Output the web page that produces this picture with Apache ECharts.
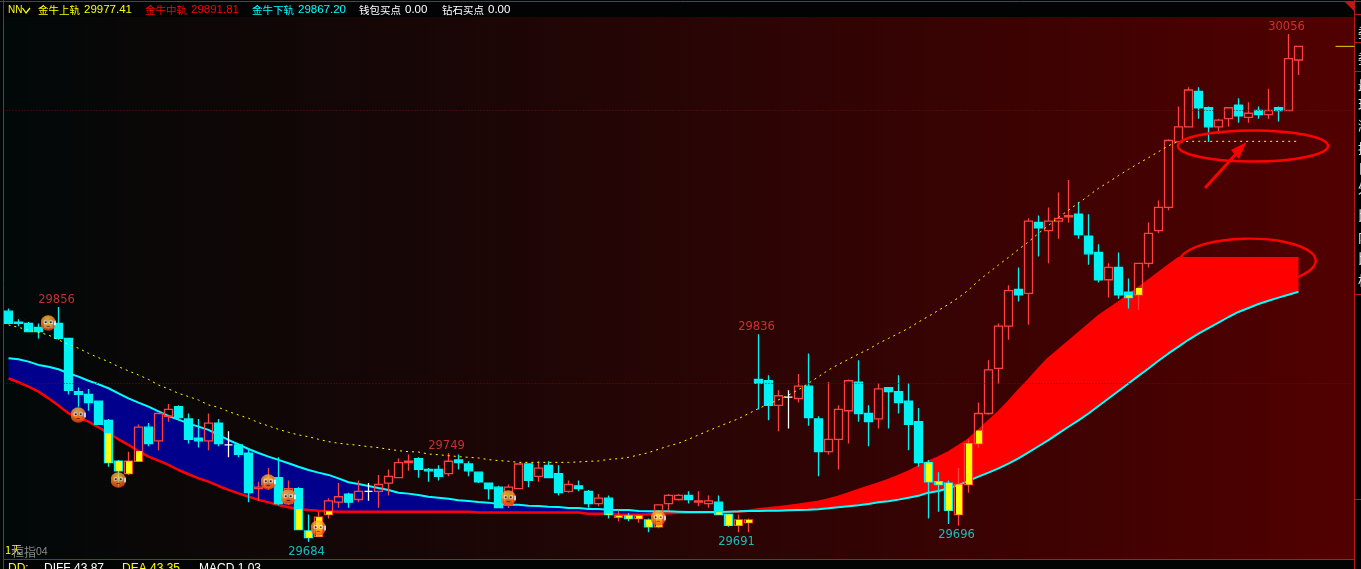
<!DOCTYPE html>
<html>
<head>
<meta charset="utf-8">
<title>金牛轨道</title>
<style>
  html, body { margin: 0; padding: 0; background: #000; overflow: hidden; }
  #chart { width: 1361px; height: 569px; }
</style>
<script src="https://cdn.jsdelivr.net/npm/echarts@6/dist/echarts.min.js"></script>
</head>
<body>
<div id="chart"></div>
<script>
// K线数据
const opens = [
  29853, 29845, 29844, 29841, 29844, 29844, 29833, 29794, 29792, 29787,
  29773, 29743, 29734, 29743, 29768, 29758, 29776, 29783, 29774, 29760,
  29758, 29771, 29755, 29755, 29749, 29723, 29724, 29731, 29712, 29723,
  29692, 29688, 29704, 29713, 29719, 29715, 29721, 29721, 29727, 29731,
  29742, 29745, 29737, 29737, 29734, 29744, 29741, 29735, 29727, 29724,
  29711, 29723, 29741, 29732, 29740, 29734, 29721, 29725, 29721, 29712,
  29716, 29702, 29703, 29701, 29700, 29695, 29712, 29715, 29718, 29713,
  29712, 29713, 29704, 29696, 29698, 29803, 29802, 29784, 29790, 29789,
  29798, 29774, 29750, 29759, 29780, 29801, 29778, 29774, 29797, 29794,
  29787, 29772, 29742, 29728, 29727, 29704, 29726, 29756, 29778, 29811,
  29842, 29869, 29866, 29918, 29912, 29919, 29922, 29924, 29908, 29896,
  29876, 29885, 29867, 29865, 29888, 29912, 29929, 29977, 29988, 30014,
  30002, 29988, 29994, 30004, 29995, 30000, 29997, 30002, 30000, 30037
];
const closes = [
  29844, 29844, 29838, 29838, 29841, 29833, 29795, 29792, 29786, 29770,
  29742, 29736, 29743, 29768, 29756, 29778, 29781, 29775, 29759, 29758,
  29771, 29756, 29755, 29748, 29720, 29724, 29730, 29712, 29723, 29693,
  29687, 29702, 29714, 29717, 29713, 29721, 29721, 29726, 29732, 29742,
  29743, 29737, 29736, 29732, 29743, 29742, 29736, 29728, 29723, 29709,
  29724, 29741, 29729, 29738, 29731, 29720, 29726, 29723, 29712, 29716,
  29704, 29703, 29701, 29703, 29695, 29711, 29718, 29718, 29715, 29714,
  29714, 29704, 29696, 29700, 29700, 29800, 29784, 29791, 29790, 29798,
  29775, 29750, 29759, 29781, 29802, 29778, 29772, 29796, 29794, 29786,
  29770, 29742, 29728, 29726, 29707, 29726, 29756, 29778, 29810, 29842,
  29868, 29865, 29919, 29914, 29919, 29921, 29923, 29909, 29895, 29876,
  29885, 29865, 29863, 29888, 29910, 29929, 29978, 29988, 30015, 30002,
  29988, 29993, 30002, 29996, 29998, 29997, 30000, 30000, 30038, 30047
];
const lows = [
  29844, 29842, 29838, 29833, 29840, 29832, 29792, 29783, 29780, 29770,
  29739, 29724, 29733, 29743, 29754, 29751, 29772, 29773, 29756, 29753,
  29751, 29754, 29746, 29746, 29713, 29714, 29722, 29711, 29711, 29693,
  29684, 29688, 29701, 29709, 29709, 29713, 29714, 29709, 29718, 29731,
  29736, 29731, 29728, 29729, 29732, 29737, 29732, 29727, 29715, 29709,
  29709, 29723, 29724, 29728, 29731, 29718, 29720, 29721, 29709, 29710,
  29701, 29699, 29699, 29698, 29691, 29694, 29707, 29714, 29712, 29710,
  29709, 29704, 29695, 29691, 29691, 29781, 29773, 29765, 29767, 29786,
  29769, 29732, 29748, 29737, 29756, 29772, 29754, 29767, 29767, 29778,
  29751, 29739, 29701, 29706, 29697, 29696, 29720, 29753, 29777, 29800,
  29832, 29860, 29843, 29893, 29888, 29906, 29918, 29906, 29887, 29874,
  29863, 29862, 29855, 29854, 29885, 29910, 29927, 29977, 29988, 29994,
  29977, 29983, 29988, 29991, 29991, 29994, 29994, 29992, 30000, 30026
];
const highs = [
  29855, 29847, 29845, 29844, 29846, 29856, 29833, 29797, 29796, 29787,
  29774, 29744, 29750, 29770, 29771, 29778, 29785, 29784, 29778, 29774,
  29778, 29774, 29765, 29756, 29752, 29728, 29738, 29746, 29729, 29724,
  29704, 29706, 29716, 29727, 29720, 29729, 29727, 29733, 29737, 29745,
  29748, 29746, 29738, 29740, 29749, 29748, 29743, 29735, 29727, 29725,
  29726, 29741, 29741, 29743, 29743, 29740, 29729, 29729, 29722, 29719,
  29718, 29707, 29705, 29704, 29701, 29711, 29719, 29719, 29721, 29721,
  29718, 29718, 29704, 29704, 29701, 29836, 29806, 29795, 29795, 29807,
  29822, 29776, 29801, 29784, 29803, 29817, 29784, 29800, 29797, 29806,
  29800, 29782, 29744, 29735, 29729, 29738, 29759, 29786, 29817, 29844,
  29872, 29885, 29921, 29923, 29929, 29940, 29949, 29933, 29924, 29902,
  29888, 29896, 29877, 29888, 29918, 29934, 29979, 30003, 30017, 30017,
  30003, 29994, 30002, 30009, 30006, 30003, 30016, 30003, 30056, 30047
];

// 金牛下轨
const lowerBand = [
  29818.4, 29817.7, 29816.0, 29813.6, 29812.3, 29810.4, 29807.5, 29805.0, 29802.0, 29799.4,
  29796.5, 29792.8, 29789.1, 29786.0, 29783.0, 29779.6, 29776.2, 29773.5, 29770.8, 29768.4,
  29766.0, 29762.3, 29758.6, 29755.4, 29752.0, 29749.1, 29746.4, 29744.0, 29741.5, 29739.0,
  29736.6, 29734.7, 29733.0, 29730.5, 29727.6, 29726.4, 29724.9, 29723.4, 29722.0, 29720.0,
  29719.3, 29718.3, 29717.0, 29716.3, 29715.6, 29714.4, 29713.9, 29713.2, 29712.7, 29711.7,
  29711.2, 29711.2, 29710.5, 29710.2, 29709.7, 29709.5, 29708.8, 29708.8, 29708.0, 29708.0,
  29707.5, 29707.3, 29707.3, 29706.6, 29706.3, 29706.3, 29706.3, 29706.1, 29705.8, 29705.8,
  29705.8, 29705.8, 29706.1, 29706.3, 29706.6, 29706.6, 29706.8, 29706.8, 29707.1, 29707.3,
  29707.5, 29707.8, 29708.5, 29709.3, 29710.0, 29710.7, 29711.7, 29712.9, 29713.7, 29714.9,
  29716.3, 29717.8, 29720.0, 29721.2, 29723.2, 29725.5, 29728.6, 29731.7, 29734.7, 29737.8,
  29741.3, 29745.2, 29749.5, 29754.0, 29758.5, 29763.4, 29768.3, 29773.0, 29778.0, 29783.5,
  29789.0, 29794.5, 29800.0, 29805.6, 29811.0, 29816.6, 29822.0, 29827.0, 29832.0, 29836.5,
  29840.5, 29844.5, 29848.7, 29852.4, 29855.3, 29858.2, 29860.6, 29862.9, 29865.0, 29867.2
];
// 金牛中轨
const midBand = [
  29803.8, 29800.9, 29797.7, 29794.0, 29789.1, 29783.8, 29778.1, 29775.0, 29772.0, 29767.9,
  29763.5, 29759.1, 29755.0, 29750.5, 29746.4, 29743.5, 29740.3, 29736.6, 29733.5, 29730.5,
  29728.1, 29724.9, 29722.0, 29719.5, 29717.1, 29714.7, 29712.9, 29711.0, 29709.3, 29708.0,
  29707.3, 29706.8, 29706.4, 29706.1, 29706.1, 29706.1, 29706.1, 29706.1, 29706.1, 29706.1,
  29706.1, 29706.1, 29706.1, 29706.1, 29706.1, 29706.1, 29706.1, 29705.4, 29705.4, 29705.4,
  29705.4, 29705.4, 29705.4, 29705.4, 29705.4, 29705.4, 29705.4, 29705.4, 29704.6, 29704.6,
  29704.6, 29703.9, 29703.9, 29703.9, 29704.2, 29704.6, 29705.0, 29705.2, 29705.4, 29705.4,
  29705.6, 29705.6, 29705.8, 29706.1, 29706.8, 29707.8, 29708.5, 29709.3, 29710.2, 29711.2,
  29712.2, 29713.4, 29715.1, 29717.1, 29719.5, 29722.0, 29724.4, 29726.8, 29729.3, 29732.2,
  29735.4, 29739.0, 29742.7, 29745.9, 29749.6, 29754.2, 29759.0, 29765.5, 29772.3, 29779.0,
  29786.6, 29794.7, 29802.5, 29810.6, 29818.4, 29824.4, 29830.6, 29836.8, 29843.0, 29849.2,
  29854.4, 29859.3, 29864.6, 29870.0, 29875.4, 29880.9, 29886.4, 29891.81, 29891.81, 29891.81,
  29891.81, 29891.81, 29891.81, 29891.81, 29891.81, 29891.81, 29891.81, 29891.81, 29891.81, 29891.81
];
// 金牛上轨
const upperBand = [
  29842.9, 29841.1, 29839.2, 29837.5, 29835.5, 29831.9, 29828.7, 29825.8, 29822.1, 29818.9,
  29816.0, 29812.3, 29809.2, 29806.2, 29803.0, 29798.9, 29796.0, 29792.8, 29790.4, 29787.9,
  29784.3, 29782.5, 29779.4, 29776.9, 29774.5, 29771.3, 29768.9, 29766.4, 29764.2, 29762.3,
  29761.0, 29759.1, 29757.4, 29756.2, 29755.4, 29754.7, 29753.7, 29753.0, 29751.8, 29750.8,
  29750.0, 29749.8, 29748.3, 29747.8, 29747.1, 29746.4, 29745.9, 29745.4, 29744.2, 29743.5,
  29743.0, 29742.2, 29742.2, 29742.2, 29742.2, 29742.2, 29742.2, 29742.5, 29743.0, 29743.2,
  29744.4, 29744.9, 29745.9, 29747.6, 29749.3, 29751.8, 29754.2, 29756.2, 29759.1, 29762.3,
  29765.4, 29768.4, 29771.3, 29774.2, 29777.9, 29781.6, 29785.0, 29788.0, 29791.5, 29795.5,
  29800.1, 29805.0, 29809.9, 29814.0, 29817.7, 29821.6, 29825.0, 29829.4, 29833.0, 29836.7,
  29840.4, 29845.0, 29849.2, 29853.6, 29858.0, 29862.9, 29868.4, 29875.3, 29881.1, 29886.8,
  29892.4, 29898.2, 29903.8, 29910.0, 29915.8, 29921.6, 29927.0, 29932.2, 29937.5, 29943.0,
  29947.5, 29952.3, 29956.9, 29961.2, 29965.4, 29969.8, 29974.2, 29977.41, 29977.41, 29977.41,
  29977.41, 29977.41, 29977.41, 29977.41, 29977.41, 29977.41, 29977.41, 29977.41, 29977.41, 29977.41
];

// 表情标记 [序号, 价格]
const faceMarks = [
  [4, 29844.3], [7, 29776.9], [11, 29729.3], [26, 29727.8],
  [28, 29716.8], [31, 29694.1], [50, 29716.1], [65, 29701.4]
];
// 高低点标注
const highMarks = [[5, 29856], [44, 29749], [75, 29836], [128, 30056]];
const lowMarks = [[30, 29684], [73, 29691], [95, 29696]];
const lastPrice = [[133, 30047]];
const priceLines = [30000, 29800];

const headerItems = [
  ['NN', 8, '#ffff00'], ['金牛上轨', 38, '#ffff00'], ['29977.41', 84, '#ffff00'],
  ['金牛中轨', 145, '#ff0000'], ['29891.81', 191, '#ff0000'],
  ['金牛下轨', 252, '#00ffff'], ['29867.20', 298, '#00ffff'],
  ['钱包买点', 359, '#ffffff'], ['0.00', 405, '#ffffff'],
  ['钻石买点', 442, '#ffffff'], ['0.00', 488, '#ffffff']
];
const footerItems = [
  ['DD: .', 8, '#ffff00'], ['DIFF 43.87', 44, '#ffffff'],
  ['DEA 43.35', 122, '#ffff00'], ['MACD 1.03', 199, '#ffffff']
];
const sideChars = [
  ['委', 32], ['委', 58], ['最', 85], ['现', 104], ['涨', 125], ['换', 148],
  ['日', 168], ['外', 188], ['比', 215], ['内', 237], ['比', 258], ['析', 280]
];

const count = 135;
const categories = Array.from({ length: count }, (_, i) => String(i));
const bandRanges = [[0, 74, '#00008c'], [74, 129, '#ff0000']];

const faceSvg = `<svg xmlns="http://www.w3.org/2000/svg" viewBox="0 0 32 32">
<defs><radialGradient id="g" cx="45%" cy="25%" r="75%"><stop offset="0" stop-color="#ffd040"/><stop offset="0.55" stop-color="#ff8a1e"/><stop offset="1" stop-color="#f23a10"/></radialGradient></defs>
<circle cx="15.5" cy="16" r="15.5" fill="url(#g)"/>
<rect x="27" y="11" width="4" height="10" rx="2" fill="#fff"/>
<circle cx="10" cy="14" r="4.500" fill="#ffe6c0"/><circle cx="21" cy="14" r="4.500" fill="#ffe6c0"/>
<circle cx="10.500" cy="14.500" r="2" fill="#4a2a18"/><circle cx="20.500" cy="14.500" r="2" fill="#4a2a18"/>
<path d="M11 24 q4.500 -5 9 0 z" fill="#7a2408"/></svg>`;
const faceSymbol = 'image://data:image/svg+xml;charset=utf-8,' + encodeURIComponent(faceSvg);

const chart = echarts.init(document.getElementById('chart'));

// 黄色部分：K线实体在中轨以下的那一段
const belowMid = [];
opens.forEach((o, i) => {
  const bottom = Math.min(o, closes[i]);
  const top = Math.max(o, closes[i]);
  if (bottom < midBand[i]) belowMid.push([i, bottom, Math.min(top, midBand[i])]);
});

function textItem (text, x, y, color, size, family) {
  return {
    type: 'text', x, y, z: 20, silent: true,
    style: { text, fill: color, font: size + 'px ' + family, textVerticalAlign: 'middle' }
  };
}
const cjk = '"Noto Sans CJK SC"';
const isCjk = s => /[\u4e00-\u9fff]/.test(s);

const chrome = [
  { type: 'rect', z: 0, shape: { x: 0, y: 0, width: 1361, height: 17 }, style: { fill: '#020404' } },
  { type: 'rect', z: 0, shape: { x: 0, y: 560, width: 1361, height: 9 }, style: { fill: '#020404' } },
  { type: 'rect', z: 0, shape: { x: 1355, y: 0, width: 6, height: 569 }, style: { fill: '#000' } },
  { type: 'rect', z: 0, shape: { x: 0, y: 0, width: 3, height: 569 }, style: { fill: '#010505' } },
  { type: 'polygon', z: 1, shape: { points: [[1345, 2], [1355, 2], [1355, 12]] }, style: { fill: '#c01818' } },
  { type: 'polyline', z: 1, shape: { points: [[22.5, 8], [26, 13], [30, 8]] }, style: { stroke: '#ffff00', lineWidth: 1.3, fill: null } }
];
[[0, 1.5, 1361, 1.5], [3.5, 0, 3.5, 569], [3, 559.5, 1355, 559.5], [1354.5, 0, 1354.5, 569],
  [1355, 14.5, 1361, 14.5], [1355, 42.5, 1361, 42.5], [1355, 71.5, 1361, 71.5],
  [1355, 294.5, 1361, 294.5], [1355, 499.5, 1361, 499.5]].forEach(l => {
  chrome.push({ type: 'line', z: 1, shape: { x1: l[0], y1: l[1], x2: l[2], y2: l[3] }, style: { stroke: '#b81818', lineWidth: 1 } });
});
headerItems.forEach(h => {
  const size = isCjk(h[0]) ? 10.5 : (h[0] === 'NN' ? 10 : 11.5);
  chrome.push(textItem(h[0], h[1], 10, h[2], size, isCjk(h[0]) ? cjk : '"Liberation Sans"'));
});
footerItems.forEach(h => chrome.push(textItem(h[0], h[1], 569, h[2], 12, '"Liberation Sans"')));
sideChars.forEach(c => chrome.push(textItem(c[0], 1358, c[1], '#e8e8e8', 13, cjk)));
chrome.push(textItem('1天', 5, 550, '#ffff00', 11, cjk));
chrome.push(textItem('恒指', 12, 552, '#8a8a8a', 12, cjk));
chrome.push(textItem('04', 36, 552, '#8a8a8a', 10.5, '"Liberation Sans"'));

// 手工标注
const annotations = [
  { type: 'ellipse', z: 15, shape: { cx: 1253, cy: 146, rx: 75, ry: 15.5 }, style: { stroke: '#ff0000', fill: null, lineWidth: 2.6 } },
  { type: 'bezierCurve', z: 15, shape: { x1: 1180, y1: 258, cpx1: 1196, cpy1: 234, cpx2: 1290, cpy2: 232, x2: 1313, y2: 254 }, style: { stroke: '#ff0000', fill: null, lineWidth: 2.4 } },
  { type: 'bezierCurve', z: 15, shape: { x1: 1313, y1: 254, cpx1: 1321, cpy1: 264, cpx2: 1310, cpy2: 272, x2: 1298, y2: 277 }, style: { stroke: '#ff0000', fill: null, lineWidth: 2.4 } },
  { type: 'line', z: 15, shape: { x1: 1205, y1: 188, x2: 1236, y2: 154 }, style: { stroke: '#ff0000', lineWidth: 3 } },
  { type: 'polygon', z: 15, shape: { points: [[1246.5, 142], [1231, 150], [1239, 159]] }, style: { fill: '#ff0000' } }
];

const option = {
  animation: false,
  backgroundColor: new echarts.graphic.LinearGradient(0, 0, 1, 0, [
    { offset: 0, color: '#000808' },
    { offset: 0.1, color: '#0a0707' },
    { offset: 0.3, color: '#170606' },
    { offset: 0.5, color: '#280505' },
    { offset: 0.75, color: '#3c0202' },
    { offset: 1, color: '#520000' }
  ]),
  graphic: { elements: chrome.concat(annotations) },
  grid: { left: 3.5, top: 17, width: 1350, height: 542 },
  xAxis: { type: 'category', data: categories, show: false },
  yAxis: { type: 'value', min: 29671.4, max: 30068.5, show: false, splitLine: { show: false } },
  series: [
    {
      type: 'custom',
      z: 2,
      silent: true,
      data: bandRanges,
      encode: { x: 0 },
      renderItem (params, api) {
        const from = api.value(0);
        const to = api.value(1);
        const pts = [];
        for (let i = from; i <= to; i++) pts.push(api.coord([i, lowerBand[i]]));
        for (let i = to; i >= from; i--) pts.push(api.coord([i, midBand[i]]));
        return { type: 'polygon', shape: { points: pts }, style: { fill: bandRanges[params.dataIndex][2] } };
      }
    },
    {
      type: 'line', z: 3, silent: true, showSymbol: false, data: midBand,
      lineStyle: { color: '#ff0000', width: 2.5 }
    },
    {
      type: 'line', z: 3, silent: true, showSymbol: false, data: lowerBand,
      lineStyle: { color: '#00ffff', width: 2 }
    },
    {
      type: 'candlestick',
      z: 4,
      silent: true,
      barWidth: 8,
      data: opens.map((o, i) => [o, closes[i], lows[i], highs[i]]),
      itemStyle: {
        color: 'transparent',
        color0: '#00f2f2',
        borderColor: '#ff4040',
        borderColor0: '#00f2f2',
        borderColorDoji: '#ffffff',
        borderWidth: 1.3
      },
      markLine: {
        silent: true,
        symbol: 'none',
        label: { show: false },
        lineStyle: { color: '#641010', type: [1, 2], width: 1 },
        data: priceLines.map(v => ({ yAxis: v }))
      }
    },
    {
      type: 'custom',
      z: 5,
      silent: true,
      data: belowMid,
      encode: { x: 0, y: [1, 2] },
      renderItem (params, api) {
        const a = api.coord([api.value(0), api.value(1)]);
        const b = api.coord([api.value(0), api.value(2)]);
        return {
          type: 'rect',
          shape: { x: Math.round(a[0]) - 3, y: b[1], width: 6, height: Math.max(a[1] - b[1], 1) },
          style: { fill: '#ffff00' }
        };
      }
    },
    {
      type: 'line', z: 6, silent: true, showSymbol: false, data: upperBand,
      lineStyle: { color: '#ffff00', width: 1, type: [2, 4] }
    },
    {
      type: 'custom',
      z: 6,
      silent: true,
      data: lastPrice,
      encode: { x: 0, y: 1 },
      renderItem (params, api) {
        const p = api.coord([api.value(0), api.value(1)]);
        return {
          type: 'line',
          shape: { x1: p[0] - 3, y1: p[1], x2: p[0] + 16, y2: p[1] },
          style: { stroke: '#d8d800', lineWidth: 1 }
        };
      }
    },
    {
      type: 'scatter', z: 8, silent: true, data: faceMarks,
      symbol: faceSymbol, symbolSize: 16
    },
    {
      type: 'scatter', z: 9, silent: true, data: highMarks, symbolSize: 0,
      label: {
        show: true, position: 'top', distance: 1, offset: [-2, 0],
        formatter: p => String(p.value[1]), color: '#f03c3c', fontSize: 11.5, fontFamily: '"DejaVu Sans"'
      }
    },
    {
      type: 'scatter', z: 9, silent: true, data: lowMarks, symbolSize: 0,
      label: {
        show: true, position: 'bottom', distance: 4, offset: [-2, 0],
        formatter: p => String(p.value[1]), color: '#19e6e6', fontSize: 11.5, fontFamily: '"DejaVu Sans"'
      }
    }
  ]
};
chart.setOption(option);
</script>
</body>
</html>
